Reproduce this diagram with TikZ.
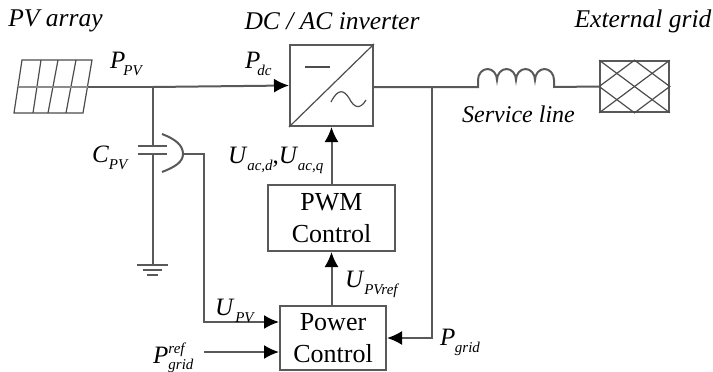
\documentclass[tikz,border=0pt]{standalone}
\usepackage{fontspec}
\setmainfont{Liberation Serif}
\usetikzlibrary{arrows.meta}

\newcommand{\smalltxt}[1]{{\fontsize{15}{15}\selectfont #1}}
\newcommand{\sublbl}[2]{\textit{#1\raisebox{-7pt}{\smalltxt{#2}}}}

\tikzset{
  wire/.style={draw=black!65,line width=2pt},
  sig/.style={wire,-{Latex[length=15pt,width=14pt,black]}},
  thin wire/.style={draw=black!70,line width=1.2pt},
  ctrl/.style={draw=black!65,line width=2pt,align=center,inner sep=0pt,
    font=\fontsize{26}{32}\selectfont},
  lbl/.style={anchor=base west,inner sep=0pt,font=\fontsize{25}{25}\selectfont},
  title/.style={font=\fontsize{25.5}{25}\selectfont\itshape,inner sep=0pt}
}

\begin{document}
\begin{tikzpicture}[x=1pt,y=-1pt]
\useasboundingbox (0,0) rectangle (713,372);

% titles
\node[title] (tpv) at (55.5,21) {PV array};
\node[title] (tinv) at (332,21) {DC / AC inverter};
\node[title] (tgrid) at (643,21) {External grid};

% blocks
\node[ctrl,minimum width=83pt,minimum height=81pt] (inv) at (331.5,85.5) {};
\node[ctrl,minimum width=127pt,minimum height=66pt] (pwm) at (331.5,218) {PWM\\Control};
\node[ctrl,minimum width=106pt,minimum height=64pt] (pow) at (333,338) {Power\\Control};
\node[draw=black!65,line width=1.6pt,minimum width=69pt,minimum height=51pt,inner sep=0pt] (ext) at (634.5,86.5) {};

% PV panel
\coordinate (pva) at (22,60);
\coordinate (pvb) at (92,60);
\coordinate (pvc) at (83,113);
\coordinate (pvd) at (14,113);
\coordinate (pvout) at (88,87);
\draw[thin wire] (pva) -- (pvb) -- (pvc) -- (pvd) -- cycle;
\draw[thin wire] (41,60) -- (33,113) (58,60) -- (48,113) (76,60) -- (66,113);
\draw[thin wire,draw=black!45] (18,87) -- (pvout);

% inverter symbol
\draw[thin wire] (inv.south west) -- (inv.north east);
\draw[thin wire] (305,67) -- (330,67);
\draw[thin wire] (331,102) .. controls (338,88) and (344,90) .. (349,98)
  .. controls (354,108) and (360,110) .. (366,100);

% grid hatch
\draw[thin wire] (ext.north west) -- (ext.south east);
\draw[thin wire] (ext.south west) -- (ext.north east);
\draw[thin wire] (ext.north) -- (ext.east) -- (ext.south) -- (ext.west) -- cycle;

% main line
\coordinate (jdc) at (153,87);
\coordinate (jac) at (432,87);
\coordinate (lin) at (478,87);
\coordinate (lout) at (554,87);
\draw[wire] (pvout) -- (jdc);
\draw[sig] (jdc) -- (inv.west);
\draw[wire] (inv.east |- jac) -- (jac) -- (lin) -- (478,80)
  arc[start angle=180,end angle=0,x radius=9.5pt,y radius=11pt]
  arc[start angle=180,end angle=0,x radius=9.5pt,y radius=11pt]
  arc[start angle=180,end angle=0,x radius=9.5pt,y radius=11pt]
  arc[start angle=180,end angle=0,x radius=9.5pt,y radius=11pt]
  -- (lout) -- (ext.west);

% capacitor and ground
\coordinate (captop) at (153,146);
\coordinate (capbot) at (153,154);
\coordinate (gnd) at (153,265);
\draw[wire] (jdc) -- (captop);
\draw[wire] (capbot) -- (gnd);
\draw[wire] (138,146) -- (167,146);
\draw[wire] (138,154) -- (167,154);
\draw[wire] (137,265) -- (168,265);
\draw[wire] (143,270) -- (162,270);
\draw[wire] (147,275) -- (158,275);

% voltage sense
\coordinate (sense) at (183,154);
\draw[wire] (162,134) .. controls (175,139) and (183,145) .. (sense)
  .. controls (183,162) and (175,167) .. (162,172);
\draw[sig] (sense) -- (204,154) -- (204,322) -- (pow.west |- 0,322);

% control signals
\coordinate (prefin) at (204,352);
\draw[sig] (prefin) -- (pow.west |- prefin);
\draw[sig] (jac) -- (432,338) -- (pow.east |- 0,338);
\draw[sig] (331.5,306) -- (pwm.south);
\draw[sig] (pwm.north) -- (inv.south);

% labels
\node[lbl] (ppv) at (110,68) {\sublbl{P\kern-2pt}{PV}};
\node[lbl] (pdc) at (245,68) {\sublbl{P\kern-3pt}{dc}};
\node[lbl] (cpv) at (92,162) {\sublbl{C}{PV}};
\node[lbl] (uac) at (228,163) {\sublbl{U\kern1pt}{ac,d},\sublbl{U\kern1pt}{ac,q}};
\node[lbl] (upvr) at (345,287) {\sublbl{U\kern1pt}{PVref}};
\node[lbl] (upv) at (215,315) {\sublbl{U\kern2pt}{PV}};
\node[lbl] (pgrid) at (440,345) {\sublbl{P\kern-3pt}{\,grid}};
\node[lbl] (pref) at (153,363) {\textit{P\rlap{\raisebox{10pt}{\smalltxt{ref}}}\raisebox{-6pt}{\smalltxt{grid}}}};
\node[lbl,font=\fontsize{24}{24}\selectfont\itshape] (sline) at (462,122) {Service line};
\end{tikzpicture}
\end{document}
